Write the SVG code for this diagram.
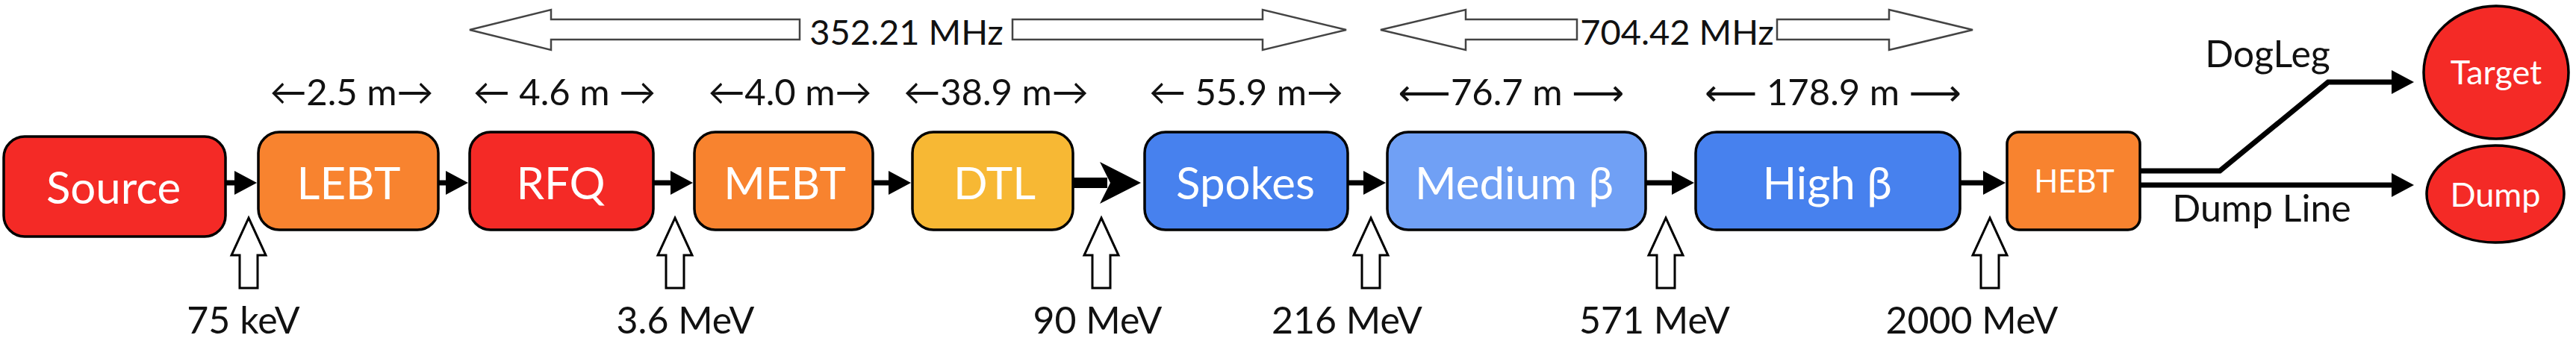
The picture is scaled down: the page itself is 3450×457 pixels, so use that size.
<svg xmlns="http://www.w3.org/2000/svg" xmlns:xlink="http://www.w3.org/1999/xlink" width="3450" height="457" viewBox="0 0 3450 457">
<style>
.box{stroke:#000;stroke-width:3.5}
.red{fill:#F42A26}.org{fill:#F8832F}.yel{fill:#F7B834}.blu{fill:#4781EE}.lblu{fill:#70A0F5}
.bt{font-family:Lato,'DejaVu Sans',sans-serif;fill:#fff;text-anchor:middle;font-size:60px}
.lbl{font-family:Lato,'DejaVu Sans',sans-serif;fill:#111;text-anchor:middle;font-size:50px}
.mhz{font-family:Lato,'DejaVu Sans',sans-serif;fill:#111;text-anchor:middle;font-size:47px}
.len{font-family:Lato,'DejaVu Sans',sans-serif;fill:#111;text-anchor:middle;font-size:49px}
.ln{stroke:#000;stroke-width:7;fill:none}
.blk{fill:#fff;stroke:#444;stroke-width:2.5;stroke-linejoin:miter}
.up{fill:#fff;stroke:#000;stroke-width:3}
</style>
<defs>
<marker id="head" markerUnits="userSpaceOnUse" markerWidth="40" markerHeight="40" viewBox="0 -20 40 40" refX="2" refY="0" orient="auto">
<path d="M0,-16 L30,0 L0,16 z" fill="#000"/>
</marker>
<marker id="bighead" markerUnits="userSpaceOnUse" markerWidth="70" markerHeight="70" viewBox="0 -35 70 70" refX="10" refY="0" orient="auto">
<path d="M0,-28 L55,0 L0,28 L14,0 z" fill="#000"/>
</marker>
<path id="upArrow" class="up" d="M0,0 L23,50 L12,50 L12,94 L-12,94 L-12,50 L-23,50 z"/>
</defs>

<g id="rf-352">
<path class="blk" d="M629,40 L738,13 L738,26 L1071,26 L1071,53 L738,53 L738,67 z"/>
<path class="blk" d="M1356,26 L1691,26 L1691,13 L1803,40 L1691,67 L1691,53 L1356,53 z"/>
<text class="mhz" x="1214" y="60">352.21 MHz</text>
</g>
<g id="rf-704">
<path class="blk" d="M1849,40 L1963,13 L1963,26 L2112,26 L2112,53 L1963,53 L1963,67 z"/>
<path class="blk" d="M2380,26 L2530,26 L2530,13 L2642,40 L2530,67 L2530,53 L2380,53 z"/>
<text class="mhz" x="2246" y="60">704.42 MHz</text>
</g>

<g id="lengths">
<text class="len" x="471" y="141">←2.5 m→</text>
<text class="len" x="756" y="141">← 4.6 m →</text>
<text class="len" x="1058" y="141">←4.0 m→</text>
<text class="len" x="1334" y="141">←38.9 m→</text>
<text class="len" x="1669" y="141">← 55.9 m→</text>
<text class="len" x="2024" y="141">⟵76.7 m ⟶</text>
<text class="len" x="2455" y="141">⟵ 178.9 m ⟶</text>
</g>

<g id="connectors">
<path class="ln" d="M302,245 H316" marker-end="url(#head)"/>
<path class="ln" d="M587,245 H599" marker-end="url(#head)"/>
<path class="ln" d="M875,245 H900" marker-end="url(#head)"/>
<path class="ln" d="M1169,245 H1192" marker-end="url(#head)"/>
<path d="M1437,245 H1483" stroke="#000" stroke-width="14" fill="none" marker-end="url(#bighead)"/>
<path class="ln" d="M1805,245 H1828" marker-end="url(#head)"/>
<path class="ln" d="M2204,245 H2241" marker-end="url(#head)"/>
<path class="ln" d="M2625,245 H2658" marker-end="url(#head)"/>
<path class="ln" d="M2866,229 H2973 L3118,110 H3205" marker-end="url(#head)"/>
<path class="ln" d="M2866,248 H3205" marker-end="url(#head)"/>
</g>

<g id="node-source"><rect class="box red" x="5" y="183" width="297" height="134" rx="28"/><text class="bt" x="152" y="273">Source</text></g>
<g id="node-lebt"><rect class="box org" x="346" y="177" width="241" height="131" rx="28"/><text class="bt" x="467" y="267">LEBT</text></g>
<g id="node-rfq"><rect class="box red" x="629" y="177" width="246" height="131" rx="28"/><text class="bt" x="751" y="267">RFQ</text></g>
<g id="node-mebt"><rect class="box org" x="930" y="177" width="239" height="131" rx="28"/><text class="bt" x="1051" y="267">MEBT</text></g>
<g id="node-dtl"><rect class="box yel" x="1222" y="177" width="215" height="131" rx="28"/><text class="bt" x="1332" y="267">DTL</text></g>
<g id="node-spokes"><rect class="box blu" x="1533" y="177" width="272" height="131" rx="28"/><text class="bt" x="1668" y="267">Spokes</text></g>
<g id="node-medium"><rect class="box lblu" x="1858" y="177" width="346" height="131" rx="28"/><text class="bt" x="2028" y="267">Medium β</text></g>
<g id="node-high"><rect class="box blu" x="2271" y="177" width="354" height="131" rx="28"/><text class="bt" x="2447" y="267">High β</text></g>
<g id="node-hebt"><rect class="box org" x="2688" y="177" width="178" height="131" rx="16"/><text class="bt" x="2778" y="258" style="font-size:42px">HEBT</text></g>
<g id="node-target"><ellipse class="box red" cx="3343" cy="97" rx="97" ry="89"/><text class="bt" x="3343" y="113" style="font-size:45px">Target</text></g>
<g id="node-dump"><ellipse class="box red" cx="3342" cy="260" rx="92" ry="65"/><text class="bt" x="3342" y="277" style="font-size:45px">Dump</text></g>

<g id="labels-misc">
<text class="lbl" x="3037" y="90">DogLeg</text>
<text class="lbl" x="3029" y="297">Dump Line</text>
</g>

<g id="energies">
<use xlink:href="#upArrow" x="333" y="292"/>
<use xlink:href="#upArrow" x="904" y="292"/>
<use xlink:href="#upArrow" x="1475" y="292"/>
<use xlink:href="#upArrow" x="1836" y="292"/>
<use xlink:href="#upArrow" x="2231" y="292"/>
<use xlink:href="#upArrow" x="2665" y="292"/>
<text class="lbl" x="326" y="447">75 keV</text>
<text class="lbl" x="918" y="447">3.6 MeV</text>
<text class="lbl" x="1470" y="447">90 MeV</text>
<text class="lbl" x="1804" y="447">216 MeV</text>
<text class="lbl" x="2216" y="447">571 MeV</text>
<text class="lbl" x="2641" y="447">2000 MeV</text>
</g>
</svg>
